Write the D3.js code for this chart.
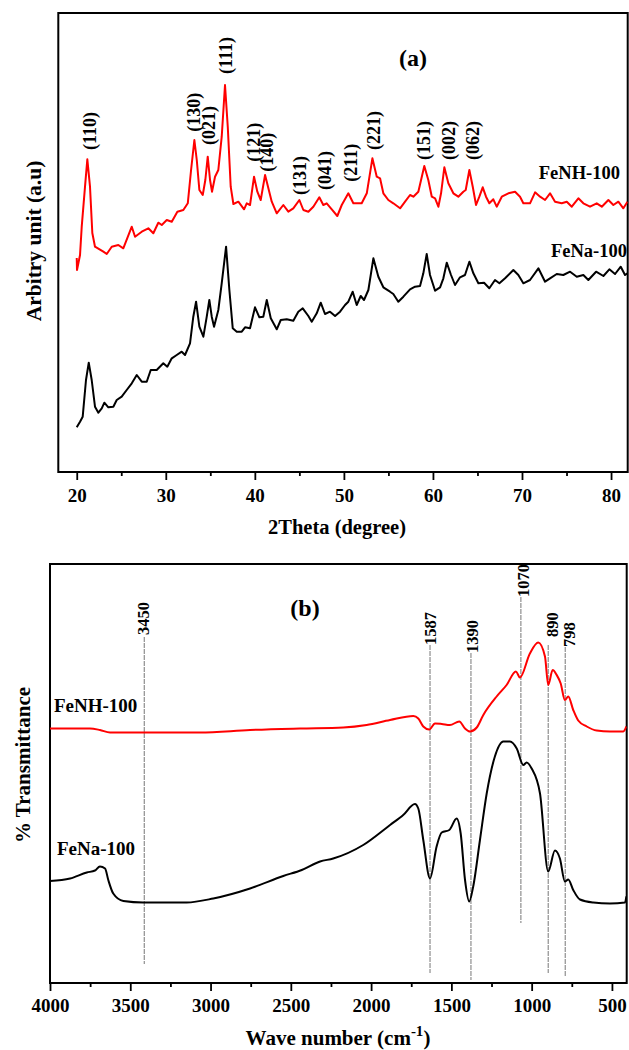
<!DOCTYPE html>
<html>
<head>
<meta charset="utf-8">
<script src="https://cdn.jsdelivr.net/npm/d3@7/dist/d3.min.js"></script>
<style>
  body { margin: 0; background: #fff; }
  text { font-family: "Liberation Serif", "Times New Roman", serif; font-weight: bold; }
</style>
</head>
<body>
<svg id="chart" width="629" height="1050"></svg>
<script>
// ---- panel (a) XRD data : [2theta, intensity a.u.]
var xrdFeNH = [[20.0,2140],[20.03,2020],[20.37,2170],[20.56,2453],[20.93,2853],[21.19,3127],[21.49,2853],[21.75,2390],
  [22.05,2253],[22.99,2203],[23.37,2180],[23.93,2253],[24.67,2270],[25.23,2237],[26.18,2453],[26.55,2353],
  [27.30,2403],[28.04,2437],[28.60,2387],[29.16,2493],[29.55,2470],[30.11,2520],[30.67,2503],[31.30,2603],
  [31.97,2620],[32.47,2687],[32.84,3020],[33.21,3320],[33.48,3120],[33.77,2820],[34.15,2770],[34.44,2920],
  [34.71,3153],[34.97,2920],[35.19,2803],[35.53,2953],[35.90,3020],[36.28,3353],[36.65,3870],[36.96,3453],
  [37.29,2853],[37.59,2680],[38.15,2703],[38.79,2627],[39.09,2687],[39.46,2670],[39.91,2953],[40.28,2803],
  [40.66,2720],[41.15,2970],[41.52,2837],[41.90,2703],[42.46,2587],[43.20,2670],[43.76,2603],[44.32,2637],
  [45.00,2720],[45.45,2620],[46.01,2603],[46.57,2653],[47.24,2747],[47.69,2670],[48.07,2687],[48.64,2627],
  [49.26,2560],[49.76,2670],[50.50,2787],[51.06,2687],[52.00,2687],[52.57,2787],[53.20,3137],[53.69,2953],
  [54.06,2937],[54.43,2787],[54.99,2720],[55.55,2687],[56.31,2637],[56.87,2703],[57.43,2770],[57.80,2753],
  [58.36,2803],[59.03,3060],[59.48,2920],[59.87,2753],[60.24,2737],[60.61,2653],[60.91,2787],[61.28,3047],
  [61.73,2887],[62.29,2787],[62.85,2753],[63.41,2803],[63.68,2820],[64.09,3020],[64.47,2853],[64.84,2670],
  [65.21,2753],[65.59,2847],[65.96,2753],[66.33,2687],[66.78,2727],[67.16,2653],[67.73,2753],[68.47,2787],
  [69.22,2803],[69.78,2753],[70.15,2687],[70.90,2687],[71.47,2797],[72.03,2753],[72.59,2720],[73.15,2787],
  [73.71,2703],[74.46,2687],[75.03,2703],[75.59,2653],[76.33,2737],[76.89,2687],[77.64,2653],[78.39,2687],
  [78.96,2653],[79.70,2720],[80.26,2670],[80.82,2703],[81.38,2637],[81.85,2703]];

var xrdFeNa = [[20.0,447],[20.37,503],[20.67,553],[21.04,920],[21.35,1093],[21.68,920],[22.05,653],[22.43,593],
  [22.81,637],[23.10,693],[23.55,647],[24.11,653],[24.49,720],[25.05,753],[25.61,820],[26.18,887],
  [26.74,970],[27.30,903],[27.86,903],[28.31,1020],[28.98,1020],[29.72,1087],[30.17,1053],[30.67,1137],
  [31.23,1170],[31.79,1203],[32.16,1170],[32.72,1287],[33.09,1553],[33.40,1703],[33.77,1453],[34.22,1353],
  [34.60,1553],[34.89,1720],[35.16,1553],[35.42,1453],[35.90,1620],[36.28,1887],[36.77,2253],[37.14,1820],
  [37.52,1437],[37.97,1403],[38.53,1403],[38.90,1447],[39.46,1437],[40.02,1647],[40.51,1547],[40.95,1553],
  [41.34,1720],[41.79,1537],[42.46,1427],[42.91,1520],[43.58,1527],[44.32,1513],[44.88,1603],[45.38,1637],
  [46.01,1560],[46.39,1503],[46.95,1587],[47.40,1693],[47.88,1580],[48.44,1603],[49.01,1560],[49.57,1603],
  [50.13,1670],[50.50,1703],[50.99,1803],[51.44,1670],[51.89,1760],[52.26,1720],[52.75,1820],[53.31,2137],
  [53.87,1953],[54.43,1847],[55.18,1803],[55.55,1780],[56.11,1703],[56.68,1753],[57.43,1827],[57.99,1853],
  [58.55,1860],[58.92,1987],[59.30,2180],[59.67,1970],[60.24,1813],[60.80,1847],[61.17,1937],[61.55,2093],
  [62.03,1970],[62.48,1870],[63.04,1947],[63.60,1970],[64.09,2103],[64.54,1987],[65.10,1887],[65.74,1893],
  [66.33,1837],[66.97,1920],[67.46,1887],[68.10,1937],[69.03,2020],[69.59,1970],[70.15,1887],[70.90,1920],
  [71.84,2037],[72.59,1903],[73.15,1937],[73.90,1980],[74.64,1970],[75.40,2003],[76.15,1953],[76.89,1970],
  [77.45,1920],[78.32,2003],[79.14,1960],[79.81,2027],[80.45,1980],[81.09,2053],[81.57,1970],[81.85,1987]];

var xrdPeakNames = ["(110)","(130)","(021)","(111)","(121)","(140)","(131)","(041)","(211)","(221)","(151)","(002)","(062)"];
var xrdPeakPos = [[21.41,3220],[33.09,3403],[34.78,3270],[36.77,3980],[39.83,3103],[41.34,3003],[45.08,2770],
  [47.88,2820],[50.8,2903],[53.39,3220],[59.0,3120],[61.73,3120],[64.47,3120]];
var xrdTicks = [20, 30, 40, 50, 60, 70, 80];
var xrdMinor = [25, 35, 45, 55, 65, 75];

// ---- panel (b) FTIR data : [wave number, transmittance a.u.]
var ftirFeNH = [[4000,509],[3751,509],[3689,506],[3626,501],[3419,501],[3066,501],[2754,506],[2443,509],
  [2173,511],[2028,516],[1882,526],[1737,534],[1706,529],[1675,513],[1638,507],[1602,519],[1560,518],
  [1509,516],[1451,523],[1415,509],[1384,503],[1342,511],[1301,536],[1218,573],[1156,596],[1098,623],
  [1073,611],[1011,659],[959,681],[917,653],[897,596],[869,626],[844,616],[819,599],[793,566],[772,573],
  [741,546],[710,525],[657,513],[595,505],[512,503],[429,503],[410,513]];

var ftirFeNa = [[4000,204],[3875,209],[3771,221],[3720,225],[3689,233],[3657,229],[3637,206],[3606,179],
  [3543,164],[3419,161],[3149,161],[2983,169],[2754,189],[2547,214],[2432,226],[2318,243],[2236,249],
  [2049,276],[1882,316],[1800,336],[1727,358],[1706,349],[1675,286],[1633,209],[1592,273],[1560,301],
  [1513,306],[1467,329],[1442,299],[1415,206],[1389,163],[1364,193],[1322,286],[1280,379],[1229,453],
  [1177,483],[1135,483],[1093,469],[1052,436],[1031,441],[1000,429],[948,379],[897,223],[855,265],
  [824,249],[793,203],[772,207],[741,186],[699,167],[616,161],[512,159],[419,161],[410,173]];

var ftirBandNames = ["3450","1587","1390","1070","890","798"];
var ftirBandLine = [3413, 1633, 1378, 1067, 897, 791];
var ftirBandTop = [692, 676, 660, 772, 676, 672];
var ftirBandBottom = [38, 20, 6, 120, 20, 12];
var ftirLabelX = [3421, 1630, 1369, 1052, 875, 765];
var ftirLabelY = [696, 676, 660, 772, 692, 672];
var ftirTicks = [4000, 3500, 3000, 2500, 2000, 1500, 1000, 500];
var ftirMinor = [3750, 3250, 2750, 2250, 1750, 1250, 750];

var svg = d3.select("#chart");
svg.append("rect").attr("width", 629).attr("height", 1050).attr("fill", "#fff");

function panel(opt) {
  var x = d3.scaleLinear().domain(opt.xDomain).range([opt.left, opt.right]);
  var y = d3.scaleLinear().domain(opt.yDomain).range([opt.bottom, opt.top]);
  var g = svg.append("g");

  g.append("clipPath").attr("id", opt.id + "clip")
    .append("rect").attr("x", opt.left).attr("y", opt.top)
    .attr("width", opt.right - opt.left).attr("height", opt.bottom - opt.top);

  // minor ticks
  g.append("g").attr("transform", "translate(0," + opt.bottom + ")")
    .call(d3.axisBottom(x).tickValues(opt.minor).tickSize(4).tickFormat(""))
    .call(function(a){ a.select(".domain").remove(); a.selectAll("line").attr("stroke-width", 1.8); });

  // major ticks + labels
  g.append("g").attr("transform", "translate(0," + opt.bottom + ")")
    .call(d3.axisBottom(x).tickValues(opt.ticks).tickSize(8).tickPadding(opt.pad).tickFormat(d3.format("d")))
    .attr("font-family", "Liberation Serif, Times New Roman, serif")
    .attr("font-size", 19).attr("font-weight", "bold")
    .call(function(a){ a.select(".domain").remove(); a.selectAll("line").attr("stroke-width", 1.8); });

  g.append("rect").attr("x", opt.left).attr("y", opt.top)
    .attr("width", opt.right - opt.left).attr("height", opt.bottom - opt.top)
    .attr("fill", "none").attr("stroke", "#000").attr("stroke-width", 2);

  return { x: x, y: y, g: g };
}

// ================= (a) =================
var a = panel({ id: "a", xDomain: [17.93, 81.87], yDomain: [0, 4590],
  left: 58.3, right: 627.7, top: 13, bottom: 472, ticks: xrdTicks, minor: xrdMinor, pad: 9 });

var lineA = d3.line().x(function(d){ return a.x(d[0]); }).y(function(d){ return a.y(d[1]); });

a.g.append("path").datum(xrdFeNa).attr("d", lineA).attr("clip-path", "url(#aclip)")
  .attr("fill", "none").attr("stroke", "#000").attr("stroke-width", 2).attr("stroke-linejoin", "round");
a.g.append("path").datum(xrdFeNH).attr("d", lineA).attr("clip-path", "url(#aclip)")
  .attr("fill", "none").attr("stroke", "#ff0000").attr("stroke-width", 2).attr("stroke-linejoin", "round");

a.g.selectAll(".peak").data(xrdPeakPos).enter().append("text")
  .attr("class", "peak")
  .attr("transform", function(d){ return "translate(" + a.x(d[0]) + "," + a.y(d[1]) + ") rotate(-90)"; })
  .attr("dy", "0.35em").attr("font-size", 18)
  .text(function(d, i){ return xrdPeakNames[i]; });

a.g.append("text").attr("x", 413).attr("y", 66).attr("text-anchor", "middle").attr("font-size", 24).text("(a)");
a.g.append("text").attr("x", 620).attr("y", 179).attr("text-anchor", "end").attr("font-size", 18.5).text("FeNH-100");
a.g.append("text").attr("x", 627).attr("y", 257).attr("text-anchor", "end").attr("font-size", 18.5).text("FeNa-100");

a.g.append("text").attr("x", 337).attr("y", 534).attr("text-anchor", "middle").attr("font-size", 20.5)
  .text("2Theta (degree)");
a.g.append("text").attr("transform", "translate(33,241) rotate(-90)").attr("dy", "0.35em")
  .attr("text-anchor", "middle").attr("font-size", 21.5).text("Arbitry unit (a.u)");

// ================= (b) =================
var b = panel({ id: "b", xDomain: [4000, 408], yDomain: [0, 838],
  left: 50, right: 626.7, top: 564, bottom: 983, ticks: ftirTicks, minor: ftirMinor, pad: 8 });

// FTIR traces are smooth, so a monotone curve
var lineB = d3.line().curve(d3.curveMonotoneX)
  .x(function(d){ return b.x(d[0]); }).y(function(d){ return b.y(d[1]); });

b.g.selectAll(".band").data(ftirBandLine).enter().append("line")
  .attr("class", "band")
  .attr("x1", function(d){ return b.x(d); }).attr("x2", function(d){ return b.x(d); })
  .attr("y1", function(d, i){ return b.y(ftirBandTop[i]); })
  .attr("y2", function(d, i){ return b.y(ftirBandBottom[i]); })
  .attr("stroke", "#777").attr("stroke-width", 1).attr("stroke-dasharray", "5,1");

b.g.append("path").datum(ftirFeNH).attr("d", lineB).attr("clip-path", "url(#bclip)")
  .attr("fill", "none").attr("stroke", "#ff0000").attr("stroke-width", 2).attr("stroke-linejoin", "round");
b.g.append("path").datum(ftirFeNa).attr("d", lineB).attr("clip-path", "url(#bclip)")
  .attr("fill", "none").attr("stroke", "#000").attr("stroke-width", 2).attr("stroke-linejoin", "round");

b.g.selectAll(".bandlabel").data(ftirBandNames).enter().append("text")
  .attr("class", "bandlabel")
  .attr("transform", function(d, i){ return "translate(" + b.x(ftirLabelX[i]) + "," + b.y(ftirLabelY[i]) + ") rotate(-90)"; })
  .attr("dy", "0.35em").attr("font-size", 16.5)
  .text(function(d){ return d; });

b.g.append("text").attr("x", 305).attr("y", 616).attr("text-anchor", "middle").attr("font-size", 24).text("(b)");
b.g.append("text").attr("x", 54).attr("y", 712).attr("font-size", 19).text("FeNH-100");
b.g.append("text").attr("x", 57).attr("y", 855).attr("font-size", 19).text("FeNa-100");

var xt = b.g.append("text").attr("x", 338).attr("y", 1045).attr("text-anchor", "middle").attr("font-size", 21);
xt.append("tspan").text("Wave number (cm");
xt.append("tspan").attr("dy", -9).attr("font-size", 15).text("-1");
xt.append("tspan").attr("dy", 9).text(")");

b.g.append("text").attr("transform", "translate(23,765) rotate(-90)").attr("dy", "0.35em")
  .attr("text-anchor", "middle").attr("font-size", 21).text("% Transmittance");
</script>
</body>
</html>
